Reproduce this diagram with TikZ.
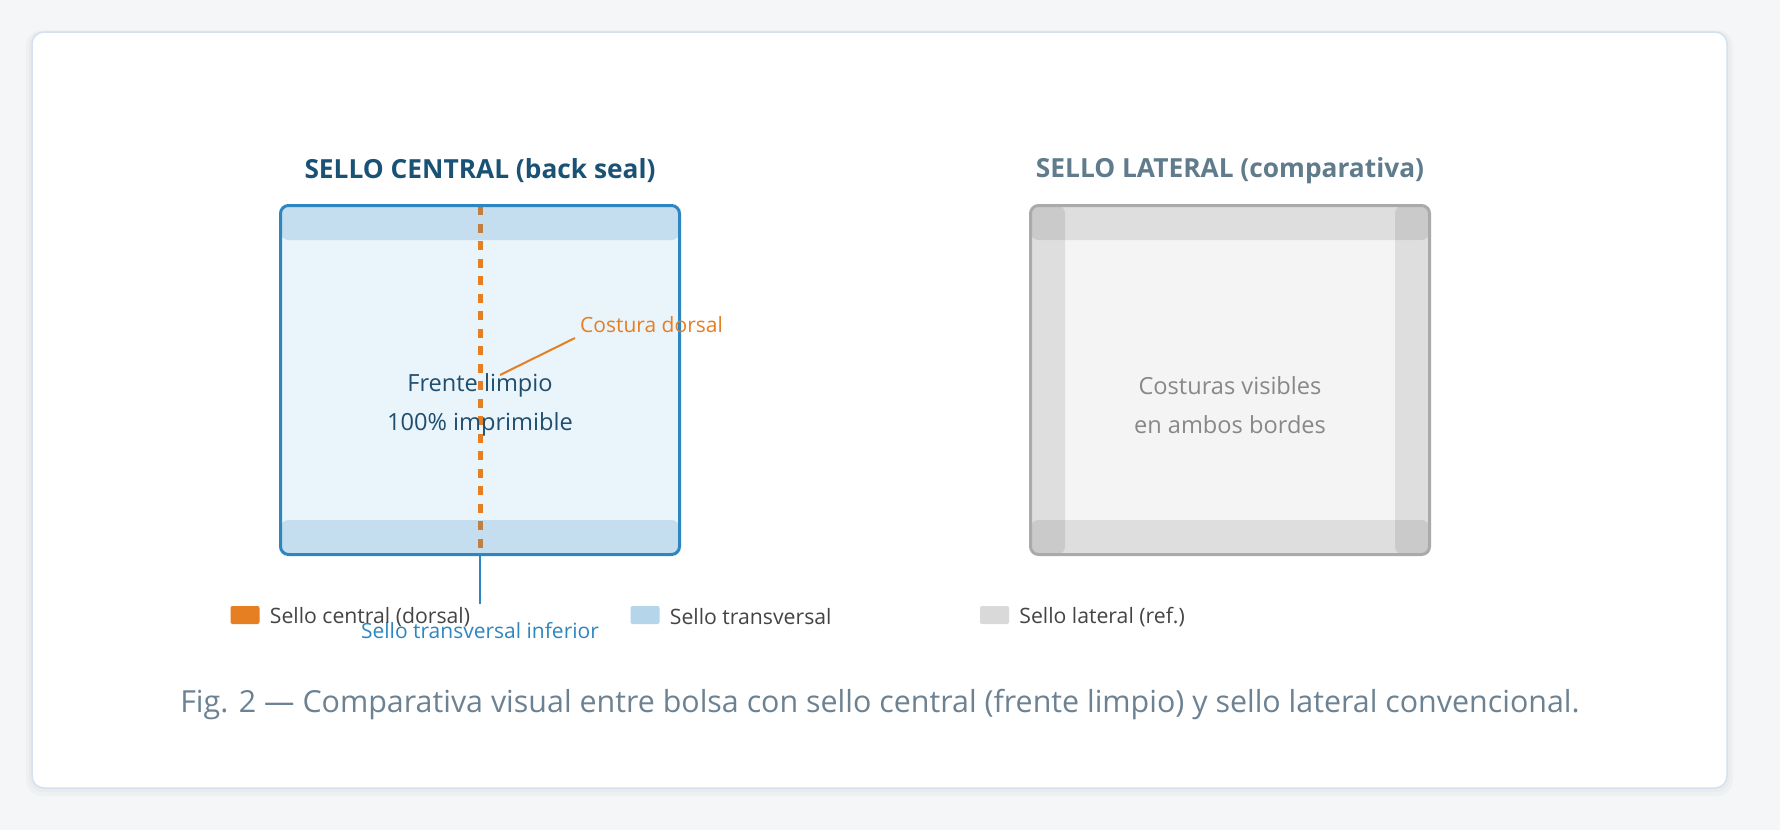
\documentclass[tikz,border=0pt]{standalone}
\usepackage{fontspec}
\setmainfont{Open Sans}
\usetikzlibrary{positioning}
\definecolor{pagebg}{HTML}{F4F6F8}
\definecolor{cardline}{HTML}{D5E1EC}
\definecolor{sealblue}{HTML}{2E86C1}
\definecolor{bagfill}{HTML}{EAF4FB}
\definecolor{seamorange}{HTML}{E67E22}
\definecolor{titleblue}{HTML}{1A5276}
\definecolor{textblue}{HTML}{1F4E6E}
\definecolor{titlegray}{HTML}{5F7B8C}
\definecolor{baggray}{HTML}{AAAAAA}
\definecolor{grayfill}{HTML}{F4F4F4}
\definecolor{graytext}{HTML}{888888}
\definecolor{keyblue}{HTML}{B5D5EA}
\definecolor{keygray}{HTML}{D9D9D9}
\definecolor{keytext}{HTML}{444444}
\definecolor{captiongray}{HTML}{6C8293}
\tikzset{>=stealth,
  bagtitle/.style={font=\bfseries\fontsize{26.3}{30}\selectfont, inner sep=0pt},
  bag/.style={line width=3pt, rounded corners=8pt, minimum width=399pt, minimum height=349pt, inner sep=0pt},
  band/.style={fill opacity=0.2, fill=sealblue},
  grayband/.style={fill opacity=0.085, fill=black},
  seam/.style={seamorange, line width=5pt, dash pattern=on 9pt off 8.5pt},
  bagtext/.style={align=center, font=\fontsize{23.6}{38.5}\selectfont, inner sep=0pt},
  keybox/.style={minimum width=29pt, minimum height=18pt, inner sep=0pt, rounded corners=2pt},
  keylabel/.style={font=\fontsize{21.2}{24}\selectfont, text=keytext, inner sep=0pt, anchor=west}
}
\begin{document}
\begin{tikzpicture}[x=1pt, y=-1pt]
    \useasboundingbox (0,0) rectangle (1780,830);
    \fill[pagebg] (0,0) rectangle (1780,830);
    \fill[black, opacity=0.025, rounded corners=16] (26,30) rectangle (1733,796);
    \fill[black, opacity=0.02, rounded corners=14] (29,31) rectangle (1730,792);
    \draw[cardline, line width=1.5pt, fill=white, rounded corners=12] (32,32) rectangle (1727,788);

    \node[bagtitle, text=titleblue] (ctitle) at (480,171) {SELLO CENTRAL (back seal)};
    \node[bagtitle, text=titlegray] (ltitle) at (1230,171) {SELLO LATERAL (comparativa)};

    \node[bag, draw=sealblue, fill=bagfill, path picture={
        \draw[seam] ([yshift=-0.5pt]path picture bounding box.north) -- ([yshift=7pt]path picture bounding box.south);
        \fill[band] (path picture bounding box.north west) rectangle ([yshift=-34.5pt]path picture bounding box.north east);
        \fill[band] (path picture bounding box.south west) rectangle ([yshift=34.5pt]path picture bounding box.south east);
    }] (central) at (480,380) {};
    \node[bag, draw=baggray, fill=grayfill, path picture={
        \fill[grayband] (path picture bounding box.north west) rectangle ([yshift=-34.5pt]path picture bounding box.north east);
        \fill[grayband] (path picture bounding box.south west) rectangle ([yshift=34.5pt]path picture bounding box.south east);
        \fill[grayband] (path picture bounding box.north west) rectangle ([xshift=34.5pt]path picture bounding box.south west);
        \fill[grayband] (path picture bounding box.north east) rectangle ([xshift=-34.5pt]path picture bounding box.south east);
    }] (lateral) at (1230,380) {};

    \node[bagtext, text=textblue] (frente) at (480,405) {Frente limpio\\100\% imprimible};
    \node[bagtext, text=graytext] (costuras) at (1230,405) {Costuras visibles\\en ambos bordes};

    \node[font=\fontsize{21}{24}\selectfont, text=seamorange, inner sep=0pt, anchor=west] (dorsal) at (580,325) {Costura dorsal};
    \coordinate (seamtip) at (500,375);
    \draw[seamorange, line width=2pt] ([shift={(-5,13)}]dorsal.west) -- (seamtip);

    \node[font=\fontsize{21}{24}\selectfont, text=sealblue, inner sep=0pt] (inferior) at (480,631) {Sello transversal inferior};
    \coordinate (infend) at (480,604);
    \draw[sealblue, line width=2pt] (central.south) -- (infend);

    \node[keybox, fill=seamorange] (keyA) at (245,615) {};
    \node[keylabel, right=10pt of keyA, yshift=-2pt] (keyAtext) {Sello central (dorsal)};
    \node[keybox, fill=keyblue] (keyB) at (645,615) {};
    \node[keylabel, right=10pt of keyB, yshift=-2pt] (keyBtext) {Sello transversal};
    \node[keybox, fill=keygray] (keyC) at (994.5,615) {};
    \node[keylabel, right=10pt of keyC, yshift=-2pt] (keyCtext) {Sello lateral (ref.)};

    \node[font=\fontsize{30.4}{34}\selectfont, text=captiongray, inner sep=0pt] (caption) at (880,705) {Fig. 2 — Comparativa visual entre bolsa con sello central (frente limpio) y sello lateral convencional.};
\end{tikzpicture}
\end{document}
